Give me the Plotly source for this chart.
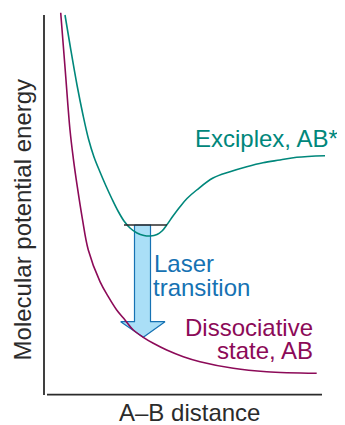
import plotly.graph_objects as go

# Arbitrary units: A-B distance (x) and potential energy (y)
exc_x = [21, 26.5, 33, 39, 44.5, 50, 56, 62, 68, 74, 80, 86, 93, 100, 106.5, 113, 118, 122.7, 129, 136, 143, 152.7, 169, 186, 202.7, 219, 236, 252.7, 281]
exc_y = [380, 347, 310, 280, 256, 238, 223, 209, 196, 184, 174, 167, 162, 159.5, 159, 160.5, 164, 170, 179, 188.3, 196.5, 205, 217, 223.3, 228.3, 232.3, 235, 237.7, 239.3]

dis_x = [16.7, 21.3, 26, 29.3, 33.3, 38.3, 44.3, 56, 64.3, 72.7, 81, 89.3, 99.3, 109.3, 122.7, 139.3, 156, 189.3, 222.7, 272.7]
dis_y = [382.3, 324, 265, 236.7, 208.3, 176.7, 145, 113.3, 98.3, 85, 75, 65, 57.7, 51.7, 45, 38.3, 33.3, 26.7, 23.3, 21.7]

# Vibrational level of the exciplex
level_x = [80, 123]
level_y = [170, 170]

# Laser transition arrow outline
arrow_x = [90.5, 106.5, 106.5, 121, 99.3, 76.7, 90.5, 90.5]
arrow_y = [170, 170, 73.3, 73.3, 57.7, 73.3, 73.3, 170]

TEAL = "#00877b"
PURPLE = "#8c0a58"
BLUE = "#1672b3"
GRAY = "#2b2b2b"
FONT = "Liberation Sans, Arial, sans-serif"
FS = 24

fig = go.Figure()
fig.add_trace(go.Scatter(x=arrow_x, y=arrow_y, mode="lines", fill="toself",
                         fillcolor="#aadff7", line=dict(color=BLUE, width=1.2),
                         hoverinfo="skip"))
fig.add_trace(go.Scatter(x=dis_x, y=dis_y, mode="lines",
                         line=dict(color=PURPLE, width=1.6, shape="spline", smoothing=1.0)))
fig.add_trace(go.Scatter(x=exc_x, y=exc_y, mode="lines",
                         line=dict(color=TEAL, width=1.6, shape="spline", smoothing=1.0)))
fig.add_trace(go.Scatter(x=level_x, y=level_y, mode="lines",
                         line=dict(color=GRAY, width=1.5)))

ann = [
    dict(text="Laser", x=108, y=132, xanchor="left", color=BLUE),
    dict(text="transition", x=107, y=108, xanchor="left", color=BLUE),
    dict(text="Dissociative", x=271, y=67.5, xanchor="right", color=PURPLE),
    dict(text="state, AB", x=271, y=44.3, xanchor="right", color=PURPLE),
]
annotations = []
for a in ann:
    annotations.append(dict(text=a["text"], x=a["x"], y=a["y"], xref="x", yref="y",
                            xanchor=a["xanchor"], yanchor="middle", showarrow=False,
                            font=dict(family=FONT, size=FS, color=a["color"])))
annotations.append(dict(text="Exciplex, AB*", x=1.036, y=0.6675, xref="paper", yref="paper",
                        xanchor="right", yanchor="middle", showarrow=False,
                        font=dict(family=FONT, size=FS, color=TEAL)))
annotations.append(dict(text="A–B distance", x=0.51, y=-0.045, xref="paper", yref="paper",
                        xanchor="center", yanchor="middle", showarrow=False,
                        font=dict(family=FONT, size=FS, color=GRAY)))
annotations.append(dict(text="Molecular potential energy", x=-0.077, y=0.456, xref="paper",
                        yref="paper", xanchor="center", yanchor="middle", textangle=-90,
                        showarrow=False, font=dict(family=FONT, size=FS, color=GRAY)))

shapes = [
    dict(type="line", xref="paper", yref="paper", x0=0, x1=0, y0=0.0, y1=0.987,
         line=dict(color=GRAY, width=1.8)),
    dict(type="line", xref="paper", yref="paper", x0=0.0105, x1=0.972, y0=0.001, y1=0.001,
         line=dict(color=GRAY, width=1.8)),
]

# page body has an 8px margin, so the figure is shrunk and shifted to compensate
fig.update_layout(
    width=337, height=417,
    margin=dict(l=36, r=15, t=2, b=30),
    paper_bgcolor="white", plot_bgcolor="white",
    showlegend=False,
    xaxis=dict(range=[0, 286], visible=False, fixedrange=True),
    yaxis=dict(range=[0, 385], visible=False, fixedrange=True),
    annotations=annotations,
    shapes=shapes,
)

fig.write_html("out.html")
